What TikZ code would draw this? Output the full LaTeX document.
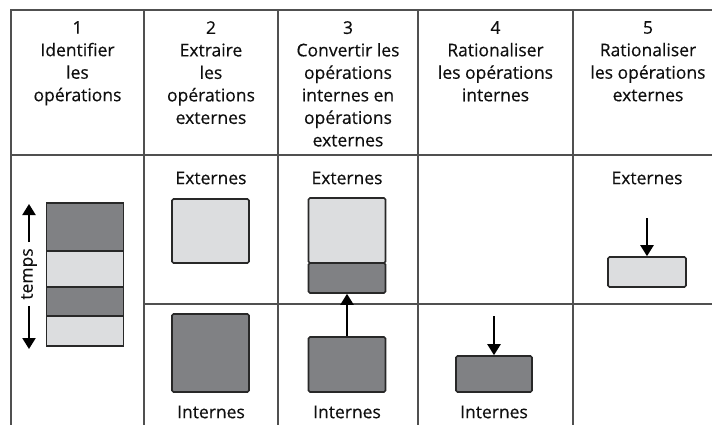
\documentclass[tikz,border=0pt]{standalone}
\usepackage{fontspec}
\setmainfont{Open Sans}[FakeBold=0.4]
\usetikzlibrary{arrows.meta,positioning}
\definecolor{GridLine}{RGB}{80,80,80}
\definecolor{OpDark}{RGB}{128,129,132}
\definecolor{OpLight}{RGB}{220,221,223}
\definecolor{OpEdge}{RGB}{40,40,40}
\definecolor{InkText}{RGB}{15,15,15}

\begin{document}
\begin{tikzpicture}[x=1pt,y=-1pt,
    grid/.style={draw=GridLine,line width=1.4pt},
    head/.style={anchor=north,align=center,inner sep=0pt,text=InkText,
                 font=\fontsize{17.5}{22.5}\selectfont},
    kind/.style={inner sep=0pt,text=InkText,font=\fontsize{17.5}{20}\selectfont},
    opbox/.style={draw=OpEdge,line width=1.6pt,rounded corners=1.5pt,
                  inner sep=0pt,minimum width=77pt},
    ext/.style={opbox,fill=OpLight},
    int/.style={opbox,fill=OpDark},
    push/.style={-{Triangle[length=11pt,width=13pt]},line width=2.2pt,black}
  ]
  \useasboundingbox (0,0) rectangle (712,425);

  % table
  \draw[grid] (11,425) -- (11,10) -- (712,10);
  \draw[grid] (11,155) -- (712,155);
  \draw[grid] (144,304) -- (712,304);
  \foreach \x in {144,278,418,573}
    \draw[grid] (\x,10) -- (\x,425);

  % headings
  \node[head] (h1) at (77.5,21) {1\\Identifier\\les\\opérations};
  \node[head] (h2) at (211,21) {2\\Extraire\\les\\opérations\\externes};
  \node[head] (h3) at (348,21) {3\\Convertir les\\opérations\\internes en\\opérations\\externes};
  \node[head] (h4) at (495.5,21) {4\\Rationaliser\\les opérations\\internes};
  \node[head] (h5) at (648,21) {5\\Rationaliser\\les opérations\\externes};

  % step 1
  \node[int,rounded corners=0pt,minimum height=48pt] (s1a) at (85,227) {};
  \node[ext,rounded corners=0pt,minimum height=36pt] (s1b) at (85,269) {};
  \node[int,rounded corners=0pt,minimum height=29pt] (s1c) at (85,301.5) {};
  \node[ext,rounded corners=0pt,minimum height=30pt] (s1d) at (85,331) {};
  \node[kind,rotate=90,inner sep=6pt] (tps) at (29,274) {temps};
  \coordinate (tpsTop) at (29,204);
  \coordinate (tpsBot) at (29,349);
  \draw[push] (tps.east) -- (tpsTop);
  \draw[push] (tps.west) -- (tpsBot);

  % step 2
  \node[kind] (ext2) at (211,178) {Externes};
  \node[ext,minimum height=64pt] (e2) at (210.5,231) {};
  \node[int,minimum height=78pt] (i2) at (210.5,353) {};
  \node[kind] (int2) at (211,412) {Internes};

  % step 3
  \node[kind] (ext3) at (347,178) {Externes};
  \node[ext,minimum height=65pt] (e3) at (347,230.5) {};
  \node[int,minimum height=30pt] (c3) at (347,278) {};
  \node[int,minimum height=55pt] (i3) at (347,364.5) {};
  \node[kind] (int3) at (347,412) {Internes};
  \draw[push] (i3.north) -- (c3.south);

  % step 4
  \node[int,minimum width=76pt,minimum height=36pt] (i4) at (494,374) {};
  \coordinate (drop4) at (494,316);
  \draw[push] (drop4) -- (i4.north);
  \node[kind] (int4) at (494,412) {Internes};

  % step 5
  \node[kind] (ext5) at (647,178) {Externes};
  \node[ext,minimum width=78pt,minimum height=30pt] (e5) at (647,272) {};
  \coordinate (drop5) at (647,218);
  \draw[push] (drop5) -- (e5.north);
\end{tikzpicture}
\end{document}
